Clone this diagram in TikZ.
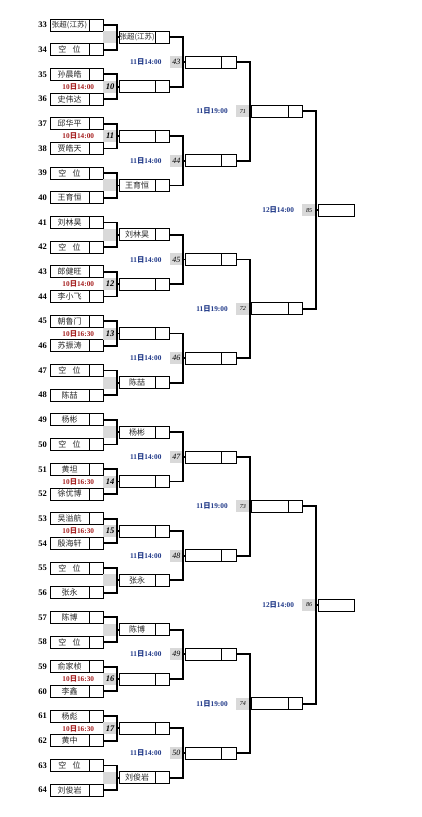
\documentclass[tikz,border=0pt]{standalone}
\usepackage{fontspec}
\setmainfont{Liberation Serif}
\newfontfamily\cjk{Noto Sans CJK SC}
\usetikzlibrary{positioning}
\usetikzlibrary{calc}

\definecolor{timered}{RGB}{165,30,30}
\definecolor{timeblue}{RGB}{30,55,135}
\newcommand{\dayj}{{\cjk 日}}
\newcommand{\zc}{{\fontsize{7.5}{8}\selectfont 张超(江苏)}}
\newcommand{\kw}{空\hspace{0.8em}位}

\begin{document}
\begin{tikzpicture}[x=1pt, y=-1pt,
    cellbox/.style={draw, line width=0.8pt, minimum height=12pt, inner sep=0pt, outer sep=0pt},
    namecell/.style={cellbox, minimum width=36.3pt, text=black!85, font=\cjk\fontsize{8}{9}\selectfont},
    seedcell/.style={cellbox, minimum width=14.3pt},
    seednum/.style={inner sep=0pt, font=\bfseries\fontsize{8.5}{9}\selectfont},
    gamebox/.style={fill=gray!30, minimum width=13.7pt, minimum height=12pt, inner sep=0pt, outer sep=0pt},
    timelbl/.style={inner sep=0pt, font=\bfseries\fontsize{7.3}{8}\selectfont},
    firsttime/.style={timelbl, text=timered},
    latertime/.style={timelbl, text=timeblue},
    bracket/.style={line width=1.8pt}]
    \useasboundingbox (0,0) rectangle (422,817);

    % Players of the first round
    \foreach \pname [count=\i from 0] in {\zc, \kw, 孙晨皓, 史伟达, 邱华平, 贾皓天, \kw, 王育恒,
        刘林昊, \kw, 郎健旺, 李小飞, 朝鲁门, 苏振涛, \kw, 陈喆,
        杨彬, \kw, 黄坦, 徐优博, 吴溢航, 殷海轩, \kw, 张永,
        陈博, \kw, 俞家桢, 李鑫, 杨彪, 黄中, \kw, 刘俊岩} {
        \pgfmathtruncatemacro\seed{33+\i}
        \node[namecell, minimum width=39pt] (b0-\i) at (69.5, {25+24.68*\i}) {\pname};
        \node[seedcell, right=0pt of b0-\i] (a0-\i) {};
        \node[seednum, left=3pt of b0-\i] (n0-\i) {\seed};
    }

    % First round: grey boxes, brackets and the boxes of the next round
    \foreach \k in {0,...,15} {
        \pgfmathtruncatemacro\up{2*\k}
        \pgfmathtruncatemacro\dn{2*\k+1}
        \node[gamebox, anchor=west] (g1-\k) at ($(a0-\up.east)!0.5!(a0-\dn.east)$) {};
        \node[namecell, anchor=west] (b1-\k) at ([xshift=2pt]g1-\k.east) {};
        \node[seedcell, right=0pt of b1-\k] (a1-\k) {};
        \draw[bracket] (a0-\up.east) -| (g1-\k.east) |- (a0-\dn.east);
        \draw[bracket] (g1-\k.east) -- (b1-\k.west);
    }

    % Numbers and times of the matches played
    \foreach \k/\m/\t in {1/10/14:00, 2/11/14:00, 5/12/14:00, 6/13/16:30,
        9/14/16:30, 10/15/16:30, 13/16/16:30, 14/17/16:30} {
        \node[inner sep=0pt, font=\bfseries\itshape\fontsize{8.5}{9}\selectfont] (m1-\k) at (g1-\k) {\m};
        \node[firsttime, left=9pt of g1-\k] (t1-\k) {10\dayj\t};
    }

    % Players going on after a bye
    \foreach \k/\w in {0/\zc, 3/王育恒, 4/刘林昊, 7/陈喆, 8/杨彬, 11/张永, 12/陈博, 15/刘俊岩}
        \node[namecell, draw=none] (w1-\k) at (b1-\k) {\w};

    % Second round
    \foreach \k in {0,...,7} {
        \pgfmathtruncatemacro\up{2*\k}
        \pgfmathtruncatemacro\dn{2*\k+1}
        \pgfmathtruncatemacro\m{43+\k}
        \node[gamebox, anchor=west, font=\itshape\fontsize{8}{9}\selectfont] (g2-\k) at ($(a1-\up.east)!0.5!(a1-\dn.east)$) {\m};
        \node[namecell, anchor=west] (b2-\k) at ([xshift=2pt]g2-\k.east) {};
        \node[seedcell, right=0pt of b2-\k] (a2-\k) {};
        \node[latertime, left=8pt of g2-\k] (t2-\k) {11\dayj 14:00};
        \draw[bracket] (a1-\up.east) -| (g2-\k.east) |- (a1-\dn.east);
        \draw[bracket] (g2-\k.east) -- (b2-\k.west);
    }

    % Third round
    \foreach \k in {0,...,3} {
        \pgfmathtruncatemacro\up{2*\k}
        \pgfmathtruncatemacro\dn{2*\k+1}
        \pgfmathtruncatemacro\m{71+\k}
        \node[gamebox, anchor=west, font=\itshape\fontsize{6}{7}\selectfont] (g3-\k) at ($(a2-\up.east)!0.5!(a2-\dn.east)$) {\m};
        \node[namecell, anchor=west] (b3-\k) at ([xshift=2pt]g3-\k.east) {};
        \node[seedcell, right=0pt of b3-\k] (a3-\k) {};
        \node[latertime, left=8pt of g3-\k] (t3-\k) {11\dayj 19:00};
        \draw[bracket] (a2-\up.east) -| (g3-\k.east) |- (a2-\dn.east);
        \draw[bracket] (g3-\k.east) -- (b3-\k.west);
    }

    % Last round of the half
    \foreach \k in {0,1} {
        \pgfmathtruncatemacro\up{2*\k}
        \pgfmathtruncatemacro\dn{2*\k+1}
        \pgfmathtruncatemacro\m{85+\k}
        \node[gamebox, anchor=west, font=\itshape\fontsize{6}{7}\selectfont] (g4-\k) at ($(a3-\up.east)!0.5!(a3-\dn.east)$) {\m};
        \node[namecell, anchor=west] (b4-\k) at ([xshift=2pt]g4-\k.east) {};
        \node[latertime, left=8pt of g4-\k] (t4-\k) {12\dayj 14:00};
        \draw[bracket] (a3-\up.east) -| (g4-\k.east) |- (a3-\dn.east);
        \draw[bracket] (g4-\k.east) -- (b4-\k.west);
    }
\end{tikzpicture}
\end{document}
